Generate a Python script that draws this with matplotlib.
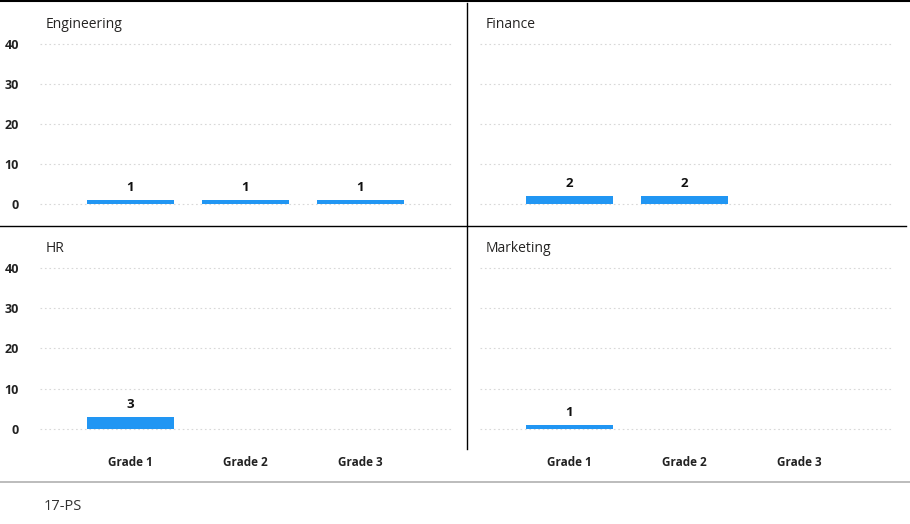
import matplotlib
matplotlib.use('Agg')
import matplotlib.pyplot as plt
from matplotlib.lines import Line2D

# counts per department and grade (None = no bar)
grades = ['Grade 1', 'Grade 2', 'Grade 3']
departments = ['Engineering', 'Finance', 'HR', 'Marketing']
engineering = [1, 1, 1]
finance = [2, 2, None]
hr = [3, None, None]
marketing = [1, None, None]
yticks = [0, 10, 20, 30, 40]
footer = '17-PS'

W, H = 910, 524
plt.rcParams['font.family'] = ['Open Sans', 'DejaVu Sans']
fig = plt.figure(figsize=(W / 100, H / 100), dpi=100)
bar_color = '#2196f3'


def px_axes(x0, y_top, x1, y_bot):
    # axes from pixel box (y measured from top)
    return fig.add_axes([x0 / W, 1 - y_bot / H, (x1 - x0) / W, (y_bot - y_top) / H])


panels = [
    (departments[0], engineering, (40, 40, 452, 212), (-0.787, 2.796), True, False),
    (departments[1], finance, (480, 40, 893, 212), (-0.778, 2.813), False, False),
    (departments[2], hr, (40, 264, 452, 437), (-0.787, 2.796), True, True),
    (departments[3], marketing, (480, 264, 893, 437), (-0.778, 2.813), False, True),
]

for name, vals, box, xl, show_y, show_x in panels:
    ax = px_axes(*box)
    xs = [i for i, v in enumerate(vals) if v is not None]
    hs = [v for v in vals if v is not None]
    ax.bar(xs, hs, width=0.757, color=bar_color, zorder=3)
    for x, h in zip(xs, hs):
        ax.text(x, h + 1.4, str(h), ha='center', va='bottom', fontsize=9.5,
                fontweight='bold', color='#111111')
    ax.set_xlim(*xl)
    ax.set_ylim(-2, 41)
    ax.set_yticks(yticks)
    ax.yaxis.grid(True, linestyle=(0, (1.5, 2.5)), color='#d8d8d8', linewidth=0.8)
    ax.set_axisbelow(True)
    for s in ax.spines.values():
        s.set_visible(False)
    ax.tick_params(length=0)
    ax.set_xticks(range(len(grades)))
    if show_x:
        ax.set_xticklabels(grades, fontsize=8.5, fontweight='bold', color='#222222')
        ax.tick_params(axis='x', pad=14)
    else:
        ax.set_xticklabels([])
    if show_y:
        ax.set_yticklabels([str(t) for t in yticks], fontsize=9, fontweight='bold',
                           color='#222222')
        ax.tick_params(axis='y', pad=15)
    else:
        ax.set_yticklabels([])
    fig.text((box[0] + 6) / W, 1 - 24 / H if box[1] < 100 else 1 - 248 / H, name,
             fontsize=10, color='#252423', va='center', ha='left')

# panel dividers and card borders
fig.add_artist(Line2D([0, 1], [1 - 0.5 / H, 1 - 0.5 / H], color='black', linewidth=1.5))
fig.add_artist(Line2D([0, 906 / W], [1 - 226 / H, 1 - 226 / H], color='black', linewidth=1))
fig.add_artist(Line2D([467 / W, 467 / W], [1 - 3 / H, 1 - 449 / H], color='black', linewidth=1))
fig.add_artist(Line2D([0, 1], [1 - 482 / H, 1 - 482 / H], color='#b0b0b0', linewidth=1.2))

fig.text(44 / W, 1 - 507 / H, footer, fontsize=10.5, color='#333333', va='center', ha='left')

fig.savefig('out.png', dpi=100)
